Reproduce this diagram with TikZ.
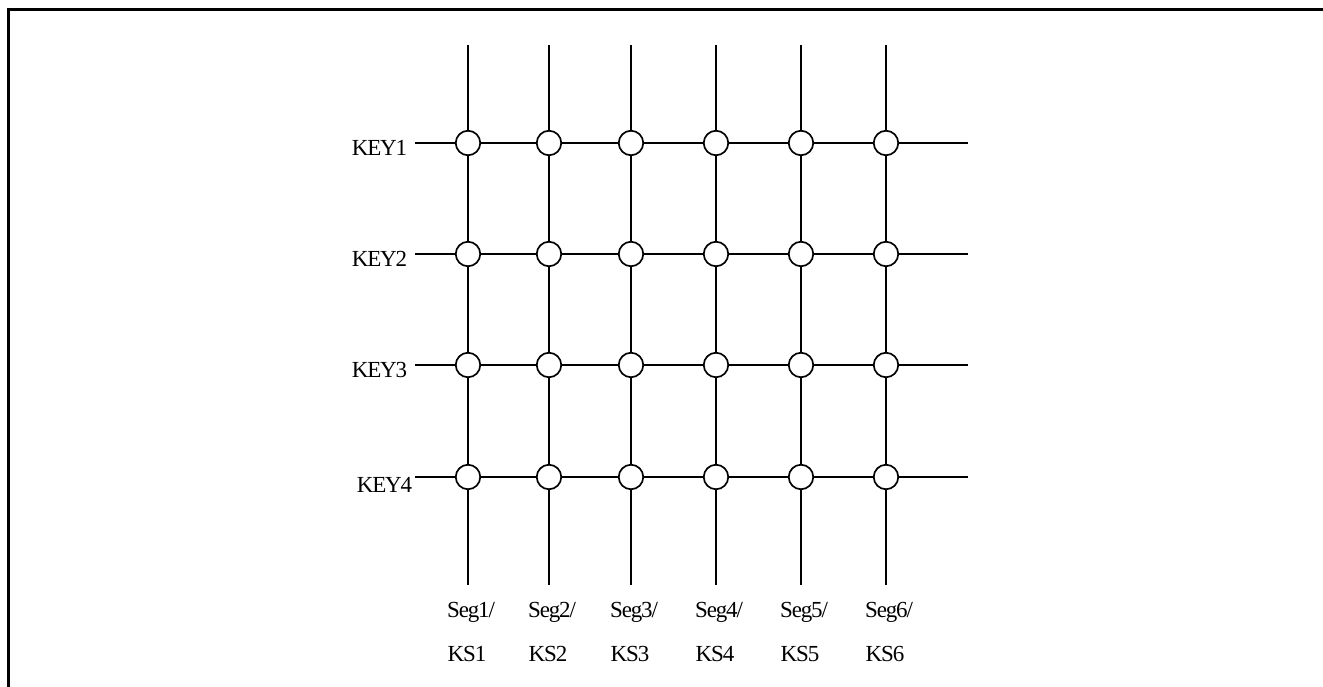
\documentclass[tikz,border=0pt]{standalone}
\usepackage{fontspec}
\setmainfont{Liberation Serif}
\newfontfamily\lblfont[LetterSpace=-5]{Liberation Serif}

\begin{document}
\begin{tikzpicture}[x=1pt, y=-1pt, line width=1.7pt]
      \tikzset{sw/.style={draw,shape=circle,fill=white,minimum size=24.5pt,inner sep=0pt},
               lbl/.style={font=\lblfont\fontsize{23}{27}\selectfont,inner sep=0pt}}
      \useasboundingbox (0,0) rectangle (1323,686);
      \draw[line width=3pt] (1330,9.5) -- (8.5,9.5) -- (8.5,695);
      % key rows
      \foreach \r/\y in {1/143,2/254,3/365,4/477}{
        \coordinate (l\r) at (415,\y);
        \coordinate (r\r) at (968,\y);
      }
      \node at (408,148)[lbl,anchor=east] (key1){KEY1};
      \node at (408,259)[lbl,anchor=east] (key2){KEY2};
      \node at (408,370)[lbl,anchor=east] (key3){KEY3};
      \node at (413,485)[lbl,anchor=east] (key4){KEY4};
      % seg columns
      \foreach \c/\x in {1/468,2/549,3/631,4/716,5/801,6/886}{
        \foreach \r/\y in {1/143,2/254,3/365,4/477}
          \node at (\x,\y)[sw] (s\r\c){};
        \coordinate (t\c) at (\x,45);
        \coordinate (b\c) at (\x,585);
        \draw (t\c) -- (s1\c) -- (s2\c) -- (s3\c) -- (s4\c) -- (b\c);
        \node at (\x+3,612)[lbl] (seg\c){Seg\c/};
        \node at (\x-1,654)[lbl] (ks\c){KS\c};
      }
      \foreach \r in {1,2,3,4}
        \draw (l\r) -- (s\r1) -- (s\r2) -- (s\r3) -- (s\r4) -- (s\r5) -- (s\r6) -- (r\r);
\end{tikzpicture}
\end{document}
